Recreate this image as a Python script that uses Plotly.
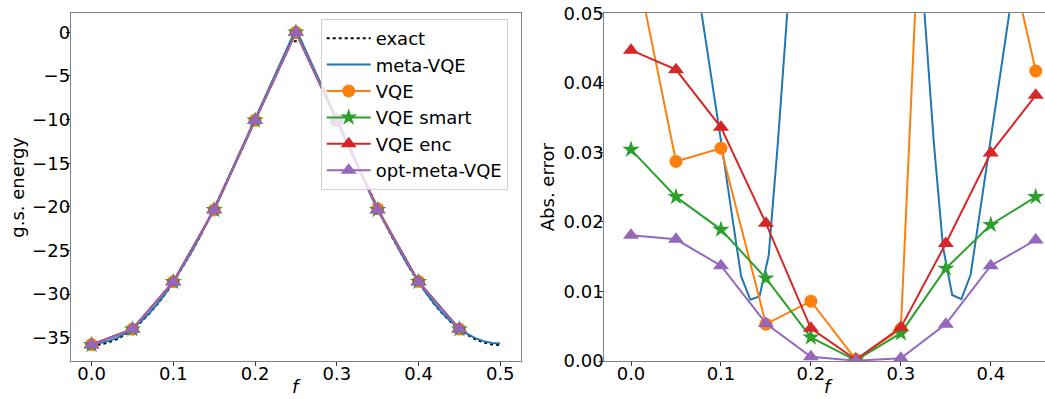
import plotly.graph_objects as go

# ---------------- data ----------------
f_grid = [0.0000, 0.0102, 0.0204, 0.0306, 0.0408, 0.0510, 0.0612, 0.0714, 0.0816, 0.0918,
          0.1020, 0.1122, 0.1224, 0.1327, 0.1429, 0.1531, 0.1633, 0.1735, 0.1837, 0.1939,
          0.2041, 0.2143, 0.2245, 0.2347, 0.2449, 0.2551, 0.2653, 0.2755, 0.2857, 0.2959,
          0.3061, 0.3163, 0.3265, 0.3367, 0.3469, 0.3571, 0.3673, 0.3776, 0.3878, 0.3980,
          0.4082, 0.4184, 0.4286, 0.4388, 0.4490, 0.4592, 0.4694, 0.4796, 0.4898, 0.5000]

exact_energy = [-35.85, -35.78, -35.55, -35.18, -34.65, -33.98, -33.15, -32.18, -31.05, -29.78,
                -28.36, -26.82, -25.17, -23.40, -21.54, -19.57, -17.51, -15.45, -13.39, -11.33,
                -9.27, -7.21, -5.15, -3.09, -1.03, -1.03, -3.09, -5.15, -7.21, -9.27,
                -11.33, -13.39, -15.45, -17.51, -19.57, -21.54, -23.40, -25.17, -26.82, -28.36,
                -29.78, -31.05, -32.18, -33.15, -33.98, -34.65, -35.18, -35.55, -35.78, -35.85]

meta_vqe_err = [0.20, 0.18, 0.155, 0.13, 0.105, 0.085, 0.068, 0.056, 0.0475, 0.039,
                0.030, 0.021, 0.0122, 0.0088, 0.0093, 0.0152, 0.0314, 0.0497, 0.072, 0.10,
                0.14, 0.19, 0.25, 0.32, 0.38, 0.38, 0.32, 0.25, 0.19, 0.14,
                0.10, 0.072, 0.0497, 0.0314, 0.0164, 0.0095, 0.0089, 0.0124, 0.0213, 0.0301,
                0.039, 0.048, 0.057, 0.068, 0.085, 0.105, 0.13, 0.155, 0.18, 0.20]

f_pts = [0.0, 0.05, 0.10, 0.15, 0.20, 0.25, 0.30, 0.35, 0.40, 0.45]
exact_at_pts = [-35.85, -34.05, -28.62, -20.36, -10.10, 0.0, -10.10, -20.36, -28.62, -34.05]

vqe_err = [0.0606, 0.0287, 0.0306, 0.0053, 0.0086, 0.0002, 0.0046, 0.148, 0.0703, 0.0417]
vqe_smart_err = [0.0304, 0.0236, 0.0189, 0.0119, 0.0034, 0.0001, 0.0040, 0.0133, 0.0196, 0.0236]
vqe_enc_err = [0.0447, 0.0419, 0.0336, 0.0198, 0.0047, 0.0002, 0.0048, 0.0169, 0.0299, 0.0382]
opt_meta_err = [0.0181, 0.0175, 0.0137, 0.0054, 0.0006, 0.00005, 0.0004, 0.0053, 0.0137, 0.0174]

left_xticks = [0.0, 0.1, 0.2, 0.3, 0.4, 0.5]
left_yticks = [0, -5, -10, -15, -20, -25, -30, -35]
right_xticks = [0.0, 0.1, 0.2, 0.3, 0.4]
right_yticks = [0.00, 0.01, 0.02, 0.03, 0.04, 0.05]

# ---------------- styling ----------------
W, H = 1045, 399
FONT = "DejaVu Sans"
FS = 18
C_BLUE, C_ORANGE, C_GREEN, C_RED, C_PURPLE = "#1f77b4", "#ff7f0e", "#2ca02c", "#d62728", "#9467bd"
LW = 2

def px_x(p):
    return p / W

def px_y(p):
    return 1 - p / H

top_px, bot_px = 13.3, 361.0
ydom = [px_y(bot_px), px_y(top_px)]

fig = go.Figure()

meta_energy = [e + d for e, d in zip(exact_energy, meta_vqe_err)]
vqe_energy = [e + d for e, d in zip(exact_at_pts, vqe_err)]
smart_energy = [e + d for e, d in zip(exact_at_pts, vqe_smart_err)]
enc_energy = [e + d for e, d in zip(exact_at_pts, vqe_enc_err)]
opt_energy = [e + d for e, d in zip(exact_at_pts, opt_meta_err)]

series = [
    ("VQE", vqe_energy, vqe_err, C_ORANGE, "circle", 13),
    ("VQE smart", smart_energy, vqe_smart_err, C_GREEN, "star", 13),
    ("VQE enc", enc_energy, vqe_enc_err, C_RED, "triangle-up", 14),
    ("opt-meta-VQE", opt_energy, opt_meta_err, C_PURPLE, "triangle-up", 14),
]

# left panel
fig.add_trace(go.Scatter(x=f_grid, y=exact_energy, mode="lines", name="exact",
                         line=dict(color="black", width=LW, dash="dot"),
                         xaxis="x", yaxis="y"))
fig.add_trace(go.Scatter(x=f_grid, y=meta_energy, mode="lines", name="meta-VQE",
                         line=dict(color=C_BLUE, width=LW), xaxis="x", yaxis="y"))
for name, en, er, col, sym, sz in series:
    fig.add_trace(go.Scatter(x=f_pts, y=en, mode="lines+markers", name=name,
                             line=dict(color=col, width=LW),
                             marker=dict(color=col, symbol=sym, size=sz, line=dict(width=0)),
                             xaxis="x", yaxis="y"))

# right panel
fig.add_trace(go.Scatter(x=f_grid, y=meta_vqe_err, mode="lines", name="meta-VQE",
                         line=dict(color=C_BLUE, width=LW), showlegend=False,
                         xaxis="x2", yaxis="y2"))
for name, en, er, col, sym, sz in series:
    fig.add_trace(go.Scatter(x=f_pts, y=er, mode="lines+markers", name=name,
                             line=dict(color=col, width=LW),
                             marker=dict(color=col, symbol=sym, size=sz, line=dict(width=0)),
                             showlegend=False, xaxis="x2", yaxis="y2"))

axis_common = dict(showgrid=False, zeroline=False, showline=True, linecolor="#808080",
                   linewidth=1, ticks="outside", ticklen=4, tickcolor="#333333",
                   tickfont=dict(family=FONT, size=FS, color="black"))
xstand = dict(ticklabelstandoff=-8)
ystand = dict(ticklabelstandoff=-8)

fig.update_layout(
    width=W, height=H,
    margin=dict(l=0, r=0, t=0, b=0, autoexpand=False),
    paper_bgcolor="white", plot_bgcolor="white",
    font=dict(family=FONT, size=FS, color="black"),
    xaxis=dict(domain=[px_x(70.7), px_x(520.7)], range=[-0.0255, 0.525],
               tickvals=left_xticks, tickformat=".1f", mirror=True, anchor="y",
               **axis_common, **xstand),
    yaxis=dict(domain=ydom, range=[-37.67, 2.18], tickvals=left_yticks,
               mirror=True, anchor="x", **axis_common, **ystand),
    xaxis2=dict(domain=[px_x(604.3), 1.0], range=[-0.0297, 0.4603],
                tickvals=right_xticks, tickformat=".1f", mirror=True, anchor="y2",
                **axis_common, **xstand),
    yaxis2=dict(domain=ydom, range=[0, 0.05], tickvals=right_yticks, tickformat=".2f",
                mirror=False, anchor="x2", **axis_common, **ystand),
    legend=dict(x=px_x(320.7), y=px_y(19), xanchor="left", yanchor="top",
                bgcolor="rgba(255,255,255,0.8)", bordercolor="#d0d0d0", borderwidth=1,
                itemwidth=44,
                font=dict(family=FONT, size=FS, color="black")),
    showlegend=True,
    annotations=[
        dict(text="g.s. energy", x=px_x(17.5), y=px_y(187.2), xref="paper", yref="paper",
             showarrow=False, textangle=-90, xanchor="center", yanchor="middle",
             font=dict(family=FONT, size=FS)),
        dict(text="Abs. error", x=px_x(547), y=px_y(187.2), xref="paper", yref="paper",
             showarrow=False, textangle=-90, xanchor="center", yanchor="middle",
             font=dict(family=FONT, size=FS)),
        dict(text="<i>f</i>", x=px_x(296), y=0, xref="paper", yref="paper",
             showarrow=False, xanchor="center", yanchor="bottom", yshift=0,
             font=dict(family=FONT, size=FS)),
        dict(text="<i>f</i>", x=px_x(828), y=0, xref="paper", yref="paper",
             showarrow=False, xanchor="center", yanchor="bottom", yshift=0,
             font=dict(family=FONT, size=FS)),
    ],
)

fig.write_html("out.html")
